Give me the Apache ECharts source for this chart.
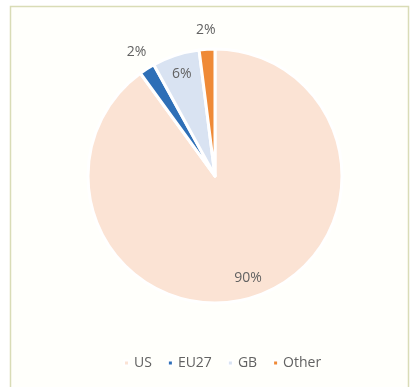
<!DOCTYPE html>
<html>
<head>
<meta charset="utf-8">
<script src="https://cdn.jsdelivr.net/npm/echarts@6/dist/echarts.min.js"></script>
<style>
  html, body { margin: 0; padding: 0; background: #fff; }
  #chart { width: 412px; height: 387px; }
</style>
</head>
<body>
<div id="chart"></div>
<script>
const categories = ["US", "EU27", "GB", "Other"];
const shares = [90, 2, 6, 2];
const sliceColors = ["#fbe3d4", "#2e6fb7", "#d9e3f2", "#ef8a37"];
// which labels sit inside the slice, which just outside
const insideLabels = ["US", "GB"];

const CENTER = [215, 176];
const R = 127;

const textColor = "#626262";
const fontFamily = "'Open Sans', 'Noto Sans', sans-serif";

function sliceData() {
  return categories.map((name, i) => ({
    name,
    value: shares[i],
    itemStyle: { color: sliceColors[i] },
  }));
}

function labelData(inside) {
  return categories.map((name, i) => {
    const show = insideLabels.includes(name) === inside;
    return {
      name,
      value: shares[i],
      label: { show },
    };
  });
}

const labelSeriesBase = {
  type: "pie",
  center: CENTER,
  startAngle: 90,
  clockwise: true,
  silent: true,
  animation: false,
  itemStyle: { color: "rgba(0,0,0,0)", borderWidth: 0 },
  labelLine: { show: false },
  emphasis: { disabled: true },
};

const chart = echarts.init(document.getElementById("chart"));
chart.setOption({
  animation: false,
  backgroundColor: "#fff",
  graphic: [
    {
      type: "rect",
      shape: { x: 10.5, y: 6.5, width: 398, height: 390 },
      style: { fill: "#fffffb", stroke: "#d9dcb6", lineWidth: 1.5 },
      z: -10,
      silent: true,
    },
  ],
  legend: {
    data: categories,
    bottom: 12,
    left: 118,
    icon: "rect",
    itemWidth: 5,
    itemHeight: 5,
    itemGap: 15,
    textStyle: { color: textColor, fontSize: 14, fontFamily },
  },
  series: [
    {
      name: "Share",
      type: "pie",
      center: CENTER,
      radius: [0, R],
      startAngle: 90,
      clockwise: true,
      data: sliceData(),
      label: { show: false },
      labelLine: { show: false },
      itemStyle: { borderColor: "#fff", borderWidth: 3 },
      emphasis: { disabled: true },
    },
    Object.assign({}, labelSeriesBase, {
      name: "inside labels",
      radius: [R * 0.64, R],
      data: labelData(true),
      label: {
        position: "inside",
        formatter: "{c}%",
        color: textColor,
        fontSize: 14,
        fontFamily,
      },
    }),
    Object.assign({}, labelSeriesBase, {
      name: "outside labels",
      radius: [R, R * 1.26],
      data: labelData(false),
      label: {
        position: "inside",
        formatter: "{c}%",
        color: textColor,
        fontSize: 14,
        fontFamily,
      },
    }),
  ],
});
</script>
</body>
</html>
